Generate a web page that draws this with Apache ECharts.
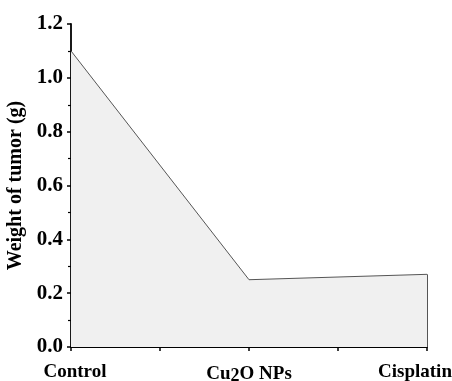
<!DOCTYPE html>
<html><head><meta charset="utf-8">
<script src="https://cdn.jsdelivr.net/npm/echarts@6/dist/echarts.min.js"></script>
<style>html,body{margin:0;padding:0;background:#fff}#c{width:452px;height:381px}</style>
</head><body><div id="c"></div>
<script>
const categories = ['Control', 'Cu2O NPs', 'Cisplatin'];
const weights = [1.1, 0.25, 0.27];
const yTicks = [0, 0.2, 0.4, 0.6, 0.8, 1.0, 1.2];

const chart = echarts.init(document.getElementById('c'));
const font = 'Liberation Serif, Times New Roman, serif';
const pts = weights.map((v, i) => [i, v]);
const base = { fontFamily: font, fontWeight: 'bold', fontSize: 19, color: '#000' };
chart.setOption({
  animation: false,
  grid: { left: 71, right: 25, top: 24, bottom: 34, containLabel: false, outerBoundsMode: 'none' },
  xAxis: {
    type: 'value', min: 0, max: categories.length - 1, interval: 0.5,
    axisLine: { show: true, lineStyle: { color: '#000', width: 1.8 } },
    axisTick: { show: true, inside: false, length: 4, lineStyle: { color: '#000', width: 1.5 } },
    splitLine: { show: false },
    axisLabel: Object.assign({
      margin: 16,
      formatter: v => {
        if (Math.abs(v - Math.round(v)) > 1e-6) return '';
        const i = Math.round(v);
        if (i === 0) return '{l|' + categories[i] + '}';
        if (i === 1) return '{a|Cu}{s|2}{a|O NPs}';
        return '{r|' + categories[i] + '}';
      },
      rich: {
        a: Object.assign({}, base),
        l: Object.assign({ padding: [0, 0, 0, 8] }, base),
        s: Object.assign({}, base, { fontSize: 18, padding: [4, 0, 0, 0] }),
        r: Object.assign({ padding: [0, 24, 8, 0] }, base)
      }
    }, base)
  },
  yAxis: {
    type: 'value', min: yTicks[0], max: yTicks[yTicks.length - 1], interval: 0.2,
    name: 'Weight of tumor (g)', nameLocation: 'middle', nameGap: 38,
    nameTextStyle: { fontFamily: font, fontWeight: 'bold', fontSize: 20, color: '#000' },
    axisLine: { show: true, lineStyle: { color: '#000', width: 1.8 } },
    axisTick: { show: true, inside: false, length: 4, lineStyle: { color: '#000', width: 1.5 } },
    minorTick: { show: true, splitNumber: 2, length: 3, lineStyle: { color: '#000', width: 1.2 } },
    splitLine: { show: false },
    axisLabel: {
      margin: 8, fontFamily: font, fontWeight: 'bold', fontSize: 21, color: '#000',
      formatter: v => v.toFixed(1)
    }
  },
  series: [{
    type: 'line', data: pts, symbol: 'none',
    lineStyle: { color: '#555', width: 1 },
    areaStyle: { color: '#f0f0f0', opacity: 1 },
    markLine: {
      symbol: 'none', silent: true, label: { show: false },
      lineStyle: { color: '#555', width: 1, type: 'solid' },
      data: [[{ coord: [pts.length - 1, 0] }, { coord: pts[pts.length - 1] }]]
    }
  }]
});
</script></body></html>
